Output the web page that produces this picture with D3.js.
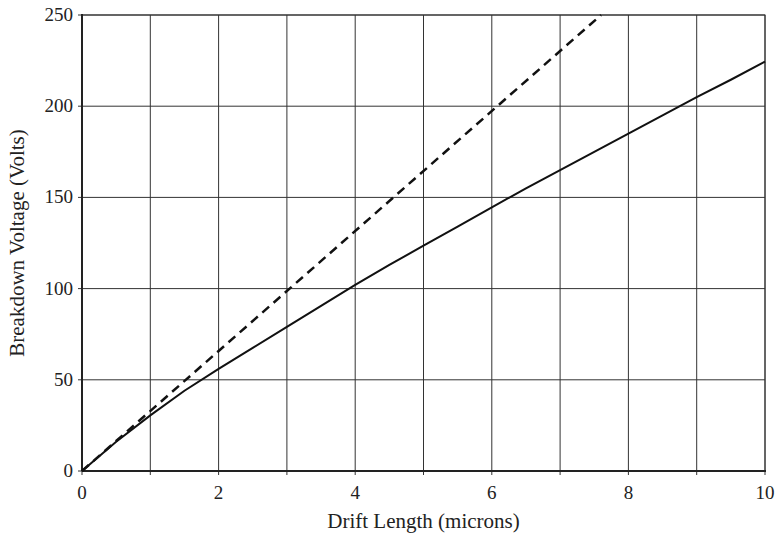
<!DOCTYPE html>
<html><head><meta charset="utf-8">
<script src="https://cdn.jsdelivr.net/npm/d3@7"></script>
<style>body{margin:0;background:#fff}svg{display:block}</style>
</head><body><svg id="c" width="777" height="538"></svg>
<script>
const driftLength = [0, 0.5, 1, 1.5, 2, 2.5, 3, 3.5, 4, 4.5, 5, 5.5, 6, 6.5, 7, 7.5, 8, 8.5, 9, 9.5, 10];
const solidVoltage = [0, 16, 30.5, 44, 56, 67.5, 79, 90.5, 102, 113, 123.5, 134, 144.5, 155, 165, 175, 185, 195, 205, 214.5, 224.5];
const dashedX = [0, 7.6];
const dashedVoltage = [0, 250];
const xTicks = [0, 2, 4, 6, 8, 10];
const xGrid = [0,1,2,3,4,5,6,7,8,9,10];
const yTicks = [0, 50, 100, 150, 200, 250];

const FONT = "Liberation Serif";
const svg = d3.select("#c").attr("font-family", FONT);
const L=82, R=765, T=15, B=471;
const x = d3.scaleLinear().domain([0,10]).range([L,R]);
const y = d3.scaleLinear().domain([0,250]).range([B,T]);

// grid
svg.append("g").selectAll("line").data(xGrid).join("line")
  .attr("x1",d=>x(d)).attr("x2",d=>x(d)).attr("y1",T).attr("y2",B+4)
  .attr("stroke","#333").attr("stroke-width",1);
svg.append("g").selectAll("line").data(yTicks).join("line")
  .attr("x1",L-4).attr("x2",R).attr("y1",d=>y(d)).attr("y2",d=>y(d))
  .attr("stroke","#333").attr("stroke-width",1);
// frame
svg.append("rect").attr("x",L).attr("y",T).attr("width",R-L).attr("height",B-T)
  .attr("fill","none").attr("stroke","#333").attr("stroke-width",1);
svg.append("line").attr("x1",L).attr("x2",R+1).attr("y1",B).attr("y2",B).attr("stroke","#222").attr("stroke-width",2);
svg.append("line").attr("x1",L).attr("x2",L).attr("y1",T-1).attr("y2",B).attr("stroke","#222").attr("stroke-width",2);

// tick labels
svg.append("g").selectAll("text").data(xTicks).join("text")
  .attr("x",d=>x(d)).attr("y",B+28).attr("text-anchor","middle")
  .attr("font-family",FONT).attr("fill","#222")
  .attr("font-size",19).text(d=>d);
svg.append("g").selectAll("text").data(yTicks).join("text")
  .attr("x",L-9).attr("y",d=>y(d)+6).attr("text-anchor","end")
  .attr("font-family",FONT).attr("fill","#222")
  .attr("font-size",19).text(d=>d);

// titles
svg.append("text").attr("x",(L+R)/2).attr("y",B+57).attr("text-anchor","middle")
  .attr("font-family",FONT).attr("fill","#222")
  .attr("font-size",21).text("Drift Length (microns)");
svg.append("text").attr("transform",`translate(24,${(T+B)/2}) rotate(-90)`).attr("text-anchor","middle")
  .attr("font-family",FONT).attr("fill","#222")
  .attr("font-size",21).text("Breakdown Voltage (Volts)");

// lines
const line = d3.line().x(d=>x(d[0])).y(d=>y(d[1]));
svg.append("path").datum(driftLength.map((d,i)=>[d,solidVoltage[i]]))
  .attr("d",line).attr("fill","none").attr("stroke","#111").attr("stroke-width",2);
svg.append("path").datum(dashedX.map((d,i)=>[d,dashedVoltage[i]]))
  .attr("d",line).attr("fill","none").attr("stroke","#111").attr("stroke-width",2.5)
  .attr("stroke-dasharray","9,6");
</script></body></html>
